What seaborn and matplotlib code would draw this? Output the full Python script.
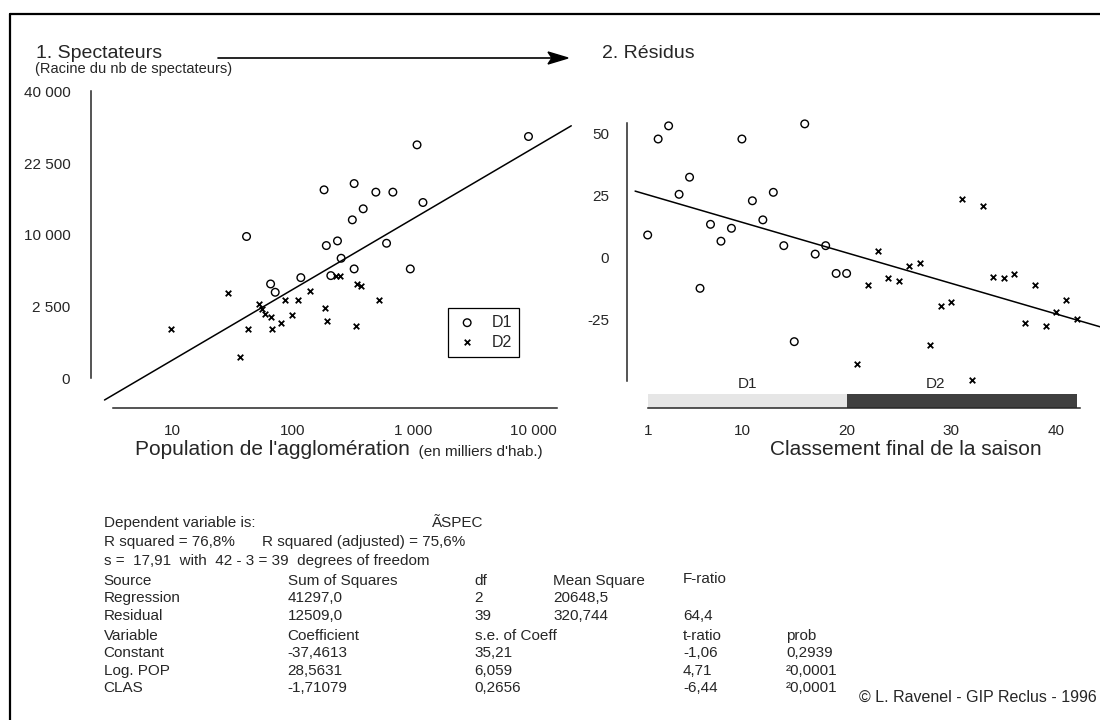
import numpy as np
import matplotlib
matplotlib.use("Agg")
import matplotlib.pyplot as plt
import matplotlib.lines as mlines
from matplotlib.ticker import NullLocator
import pandas as pd
import seaborn as sns

# --- 1. spectateurs vs population (thousands), D1 = circles, D2 = crosses
d1_pop = [41, 65, 71, 116, 181, 189, 234, 206, 251, 311, 322, 322, 383, 488,
          599, 676, 944, 1074, 1203, 9080]
d1_spec = [9780, 4330, 3600, 4930, 17270, 8570, 9180, 5130, 7010, 12210, 18440,
           5820, 13970, 16850, 8870, 16850, 5820, 26500, 15030, 28430]
d2_pop = [9.6, 29, 36, 42, 52, 55, 58, 66, 67, 79, 85, 97, 109, 139, 185, 192,
          229, 246, 339, 369, 332, 520]
d2_spec = [1170, 3520, 230, 1170, 2690, 2310, 2020, 1850, 1170, 1470, 2990,
           1950, 2990, 3710, 2380, 1600, 5100, 5100, 4300, 4100, 1350, 2990]
fit1_pop = [2.7, 20600]
fit1_spec = [-228, 31000]

# --- 2. residuals vs final ranking
d1_rank = [1, 2, 3, 4, 5, 6, 7, 8, 9, 10, 11, 12, 13, 14, 15, 16, 17, 18, 19, 20]
d1_resid = [9.0, 47.7, 53.0, 25.4, 32.3, -12.5, 13.3, 6.5, 11.7, 47.7, 22.8,
            15.1, 26.2, 4.7, -34.0, 53.8, 1.3, 4.7, -6.5, -6.5]
d2_rank = [21, 22, 23, 24, 25, 26, 27, 28, 29, 30, 31, 32, 33, 34, 35, 36, 37,
           38, 39, 40, 41, 42]
d2_resid = [-43.0, -11.2, 2.7, -8.5, -9.4, -3.4, -2.4, -35.3, -19.6, -17.9, 23.4,
            -49.5, 20.7, -7.8, -8.5, -6.9, -26.6, -11.2, -27.6, -22.2, -17.2, -24.9]
fit2_rank = [-0.2, 44.2]
fit2_resid = [26.7, -28.0]

divisions = ["D1", "D2"]
division_start = [1, 20]
division_end = [20, 42.05]
division_label_rank = [10.5, 28.5]
division_colors = ["#e6e6e6", "#3f3f3f"]

spec_ticks = [0, 2500, 10000, 22500, 40000]
spec_labels = ["0", "2 500", "10 000", "22 500", "40 000"]
pop_ticks = [10, 100, 1000, 10000]
pop_labels = ["10", "100", "1 000", "10 000"]
resid_ticks = [50, 25, 0, -25]
rank_ticks = [1, 10, 20, 30, 40]

# --- regression output
dep_line = ["Dependent variable is:", "ÃSPEC"]
r2_line = ["R squared = 76,8%", "R squared (adjusted) = 75,6%"]
s_line = "s =  17,91  with  42 - 3 = 39  degrees of freedom"
anova_header = ["Source", "Sum of Squares", "df", "Mean Square", "F-ratio"]
anova_rows = [["Regression", "41297,0", "2", "20648,5", ""],
              ["Residual", "12509,0", "39", "320,744", "64,4"]]
coef_header = ["Variable", "Coefficient", "s.e. of Coeff", "t-ratio", "prob"]
coef_rows = [["Constant", "-37,4613", "35,21", "-1,06", "0,2939"],
             ["Log. POP", "28,5631", "6,059", "4,71", "²0,0001"],
             ["CLAS", "-1,71079", "0,2656", "-6,44", "²0,0001"]]
credit = "© L. Ravenel - GIP Reclus - 1996"

sns.set_style("white")
plt.rcParams['font.family'] = ['Liberation Sans', 'DejaVu Sans']
plt.rcParams['axes.unicode_minus'] = False

W, H = 1100, 720
fig = plt.figure(figsize=(11, 7.2), dpi=100)


def fx(px):
    return px / W


def fy(py):
    return 1 - py / H


def ssqrt(v):
    v = np.asarray(v, dtype=float)
    return np.sign(v) * np.sqrt(np.abs(v))


def ssq(v):
    v = np.asarray(v, dtype=float)
    return np.sign(v) * v ** 2


LW = 1.1

# ---------- left panel
ax1 = fig.add_axes([fx(76.7), fy(414.2), fx(498.9), 329.9 / H])
ax1.set_xscale("log")
ax1.set_yscale("function", functions=(ssqrt, ssq))
ax1.set_xlim(10 ** 0.2, 10 ** 4.35)
ax1.set_ylim(-625, 42025)

left1 = pd.DataFrame({"pop": d1_pop, "spec": d1_spec})
left2 = pd.DataFrame({"pop": d2_pop, "spec": d2_spec})
sns.lineplot(x=fit1_pop, y=fit1_spec, ax=ax1, color="black", lw=LW)
sns.scatterplot(data=left1, x="pop", y="spec", ax=ax1, marker="o", s=30,
                facecolors="none", edgecolor="black", linewidth=1, label="D1")
sns.scatterplot(data=left2, x="pop", y="spec", ax=ax1, marker="x", s=16,
                color="black", linewidth=1.3, label="D2")

for side in ["top", "right"]:
    ax1.spines[side].set_visible(False)
ax1.spines["left"].set_position(("data", 10 ** 0.32))
ax1.spines["left"].set_bounds(0, 40000)
ax1.spines["bottom"].set_position(("data", -428))
ax1.spines["bottom"].set_bounds(3.2, 15800)
ax1.set_yticks(spec_ticks)
ax1.set_yticklabels(spec_labels)
ax1.set_xticks(pop_ticks)
ax1.set_xticklabels(pop_labels)
ax1.xaxis.set_minor_locator(NullLocator())
ax1.yaxis.set_minor_locator(NullLocator())
ax1.tick_params(axis="y", direction="inout", length=12, width=LW, pad=9, labelsize=11)
ax1.tick_params(axis="x", direction="inout", length=13, width=LW, pad=5, labelsize=11)
ax1.set_xlabel("")
ax1.set_ylabel("")
leg = ax1.legend(loc="upper left", bbox_to_anchor=(fx(448), fy(307.7)),
                 bbox_transform=fig.transFigure, borderaxespad=0, fancybox=False,
                 edgecolor="black", framealpha=1, fontsize=11.5, handlelength=1.5,
                 handletextpad=0.8, borderpad=0.45, labelspacing=0.3)
leg.get_frame().set_linewidth(0.9)

# ---------- right panel
ax2 = fig.add_axes([fx(621.5), fy(411.1), fx(478.5), (411.1 - 108.5) / H])
ax2.set_xlim(-1.5, 44.2)
ax2.set_ylim(-62, 60)

for name, x0, x1, c in zip(divisions, division_start, division_end, division_colors):
    ax2.barh(y=-57.95, width=x1 - x0, left=x0, height=5.3, color=c, lw=0)
for name, xr in zip(divisions, division_label_rank):
    ax2.text(xr, -51, name, ha="center", va="center", fontsize=11)

right1 = pd.DataFrame({"rank": d1_rank, "resid": d1_resid})
right2 = pd.DataFrame({"rank": d2_rank, "resid": d2_resid})
sns.lineplot(x=fit2_rank, y=fit2_resid, ax=ax2, color="black", lw=LW)
sns.scatterplot(data=right1, x="rank", y="resid", ax=ax2, marker="o", s=30,
                facecolors="none", edgecolor="black", linewidth=1)
sns.scatterplot(data=right2, x="rank", y="resid", ax=ax2, marker="x", s=16,
                color="black", linewidth=1.3)

for side in ["top", "right"]:
    ax2.spines[side].set_visible(False)
ax2.spines["left"].set_position(("data", -1.02))
ax2.spines["left"].set_bounds(-49.7, 54.3)
ax2.spines["bottom"].set_position(("data", -60.6))
ax2.spines["bottom"].set_bounds(1, 42.3)
ax2.set_yticks(resid_ticks)
ax2.set_xticks(rank_ticks)
ax2.tick_params(axis="y", direction="inout", length=13, width=LW, pad=6, labelsize=11)
ax2.tick_params(axis="x", direction="inout", length=13, width=LW, pad=5, labelsize=11)
ax2.set_xlabel("")
ax2.set_ylabel("")
for ax in (ax1, ax2):
    for sp in ax.spines.values():
        sp.set_linewidth(LW)
    ax.patch.set_visible(False)

# ---------- titles, arrow, axis labels
fig.text(fx(36), fy(58), "1. Spectateurs", fontsize=14, va="baseline")
fig.text(fx(35), fy(69), "(Racine du nb de spectateurs)", fontsize=10.5, va="center")
fig.text(fx(601.7), fy(58), "2. Résidus", fontsize=14, va="baseline")
fig.add_artist(mlines.Line2D([fx(218), fx(552)], [fy(58), fy(58)], color="black", lw=1.2))
fig.patches.append(plt.Polygon([[fx(568), fy(58)], [fx(548), fy(52)], [fx(552), fy(58)],
                                [fx(548), fy(64)]], closed=True, color="black",
                               transform=fig.transFigure, figure=fig))

xl1 = fig.text(fx(135), fy(455), "Population de l'agglomération", fontsize=15, va="baseline")
ax1.annotate("  (en milliers d'hab.)", xy=(1, 0), xycoords=xl1, va="bottom",
             ha="left", fontsize=11, annotation_clip=False)
fig.text(fx(905.5), fy(455), "Classement final de la saison", fontsize=15,
         va="baseline", ha="center")

# ---------- regression table
TFS = 11
col0 = fx(103.6)
row_y = [523, 542, 561, 581, 598, 616, 636, 653, 671, 688]
fig.text(col0, fy(row_y[0]), dep_line[0], fontsize=TFS, va="center")
fig.text(fx(432), fy(row_y[0]), dep_line[1], fontsize=TFS, va="center")
fig.text(col0, fy(row_y[1]), r2_line[0], fontsize=TFS, va="center")
fig.text(fx(262), fy(row_y[1]), r2_line[1], fontsize=TFS, va="center")
fig.text(col0, fy(row_y[2]), s_line, fontsize=TFS, va="center")

anova_x = [103.6, 287.5, 474.6, 553, 683]
for j, t in enumerate(anova_header):
    fig.text(fx(anova_x[j]), fy(row_y[3] - (2 if j == 4 else 0)), t, fontsize=TFS, va="center")
for i, row in enumerate(anova_rows):
    for j, t in enumerate(row):
        fig.text(fx(anova_x[j]), fy(row_y[4 + i]), t, fontsize=TFS, va="center")

coef_x = [103.6, 287.5, 474.6, 683, 786]
for j, t in enumerate(coef_header):
    fig.text(fx(coef_x[j]), fy(row_y[6]), t, fontsize=TFS, va="center")
for i, row in enumerate(coef_rows):
    for j, t in enumerate(row):
        fig.text(fx(coef_x[j]), fy(row_y[7 + i]), t, fontsize=TFS, va="center")

fig.text(fx(1097), fy(697), credit, fontsize=11.5, va="center", ha="right")

# ---------- frame
fig.add_artist(mlines.Line2D([fx(10), 1], [fy(14), fy(14)], color="black", lw=1.6))
fig.add_artist(mlines.Line2D([fx(10), fx(10)], [fy(14), 0], color="black", lw=1.6))

fig.savefig("out.png", dpi=100, facecolor="white")
